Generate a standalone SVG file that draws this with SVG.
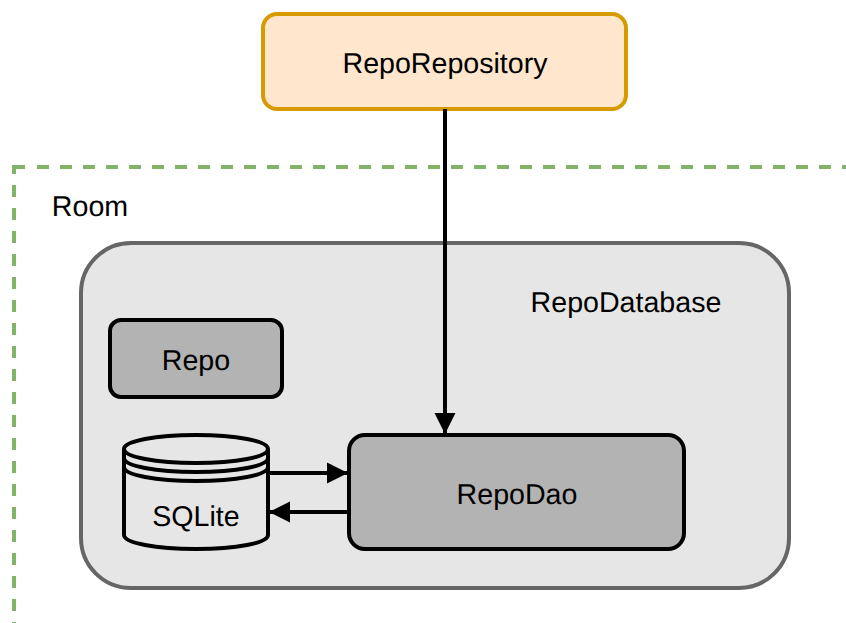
<svg xmlns="http://www.w3.org/2000/svg" width="846" height="623" viewBox="0 0 846 623">
<defs>
<style>
text{font-family:"Liberation Sans",Arial,sans-serif;font-size:28.6px;fill:#000;text-anchor:middle;text-rendering:geometricPrecision}
.c{fill:none;stroke:#000;stroke-width:4}
.d{fill:none;stroke:#82b366;stroke-width:4}
.s{fill:none;stroke:#000;stroke-width:4}
</style>
<marker id="a" markerUnits="userSpaceOnUse" markerWidth="21" markerHeight="22" refX="20" refY="11" orient="auto"><path d="M0 0.5L21 11L0 21.5Z" fill="#000"/></marker>
</defs>
<rect width="846" height="623" fill="#fff"/>
<g id="room">
<path class="d" d="M14 174V167H25"/>
<path class="d" d="M37 167H846" stroke-dasharray="12 11"/>
<path class="d" d="M14 185V623" stroke-dasharray="12 11"/>
<text x="90" y="216">Room</text>
</g>
<g id="repodatabase">
<rect x="81" y="243" width="708" height="345" rx="50" fill="#e6e6e6" stroke="#666" stroke-width="4"/>
<text x="626" y="312">RepoDatabase</text>
</g>
<g id="reporepository">
<rect x="263" y="14" width="363" height="95" rx="14" fill="#ffe6cc" stroke="#d79b00" stroke-width="4"/>
<text x="445" y="73">RepoRepository</text>
</g>
<g id="repo">
<rect x="110" y="320" width="172" height="77" rx="11" fill="#b3b3b3" stroke="#000" stroke-width="4"/>
<text x="196" y="370">Repo</text>
</g>
<g id="sqlite">
<path class="s" d="M124 449C124 441 156 435 196 435S268 441 268 449V535C268 543 236 549 196 549S124 543 124 535Z"/>
<path class="s" d="M124 449C124 457 156 463 196 463S268 457 268 449M124 458C124 466 156 472 196 472S268 466 268 458M124 467C124 475 156 481 196 481S268 475 268 467"/>
<text x="196" y="526">SQLite</text>
</g>
<g id="repodao">
<rect x="349" y="435" width="335" height="114" rx="16" fill="#b3b3b3" stroke="#000" stroke-width="4"/>
<text x="517" y="504">RepoDao</text>
</g>
<g id="connectors">
<path class="c" d="M445 109V433" marker-end="url(#a)"/>
<path class="c" d="M269 473H347" marker-end="url(#a)"/>
<path class="c" d="M349 512H270" marker-end="url(#a)"/>
</g>
</svg>
